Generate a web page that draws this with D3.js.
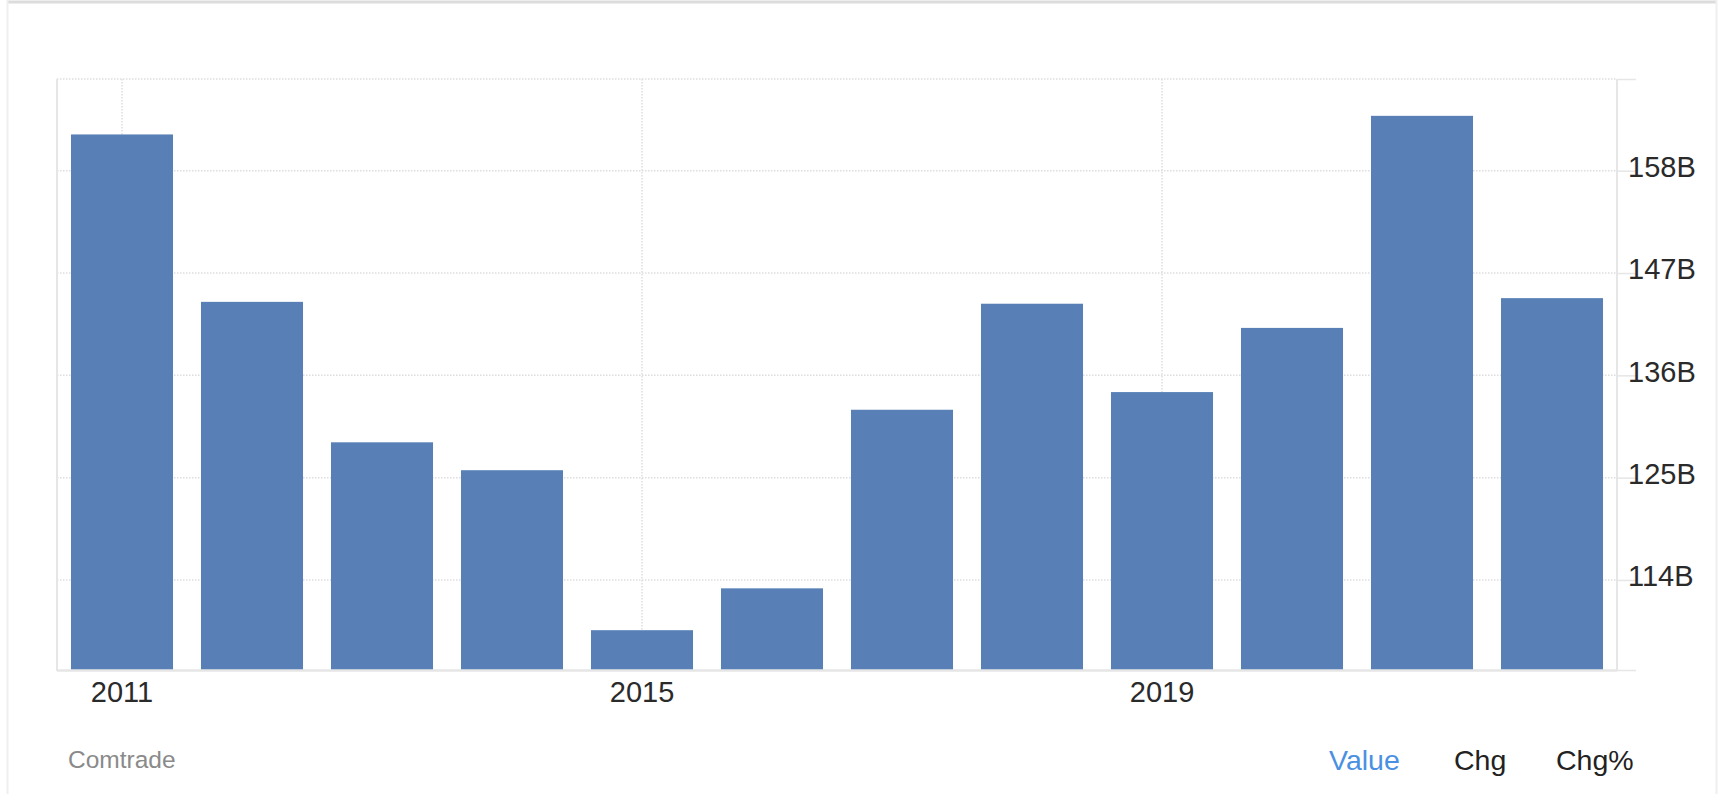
<!DOCTYPE html>
<html>
<head>
<meta charset="utf-8">
<script src="https://cdn.jsdelivr.net/npm/d3@7"></script>
<style>
  html, body { margin: 0; padding: 0; background: #fff; }
  svg { display: block; font-family: "Helvetica Neue", Helvetica, Arial, "Liberation Sans", sans-serif; }
</style>
</head>
<body>
<svg id="chart" width="1720" height="794"></svg>
<script>
const years = [2011, 2012, 2013, 2014, 2015, 2016, 2017, 2018, 2019, 2020, 2021, 2022];
const values = [161.9, 143.9, 128.8, 125.8, 108.6, 113.1, 132.3, 143.7, 134.2, 141.1, 163.9, 144.3];
const yTickValues = [114, 125, 136, 147, 158];
const yTickLabels = ["114B", "125B", "136B", "147B", "158B"];
const xTickValues = [2011, 2015, 2019];
const xTickLabels = ["2011", "2015", "2019"];
const yDomain = [104.32, 167.86];
const source = "Comtrade";
const tabs = ["Value", "Chg", "Chg%"];

const svg = d3.select("#chart");
const L = 57, R = 1617, T = 79, B = 670;
const FONT = "\"Helvetica Neue\", Helvetica, Arial, \"Liberation Sans\", sans-serif";

const x = d3.scaleBand().domain(years).range([L, R]).paddingInner(0.215).paddingOuter(0.1075);
const y = d3.scaleLinear().domain(yDomain).range([B, T]);

// outer frame
svg.append("line").attr("x1", 8).attr("x2", 1716).attr("y1", 2).attr("y2", 2)
  .attr("stroke", "#dcdcdc").attr("stroke-width", 3);
svg.append("line").attr("x1", 7.5).attr("x2", 7.5).attr("y1", 0).attr("y2", 794)
  .attr("stroke", "#efefef").attr("stroke-width", 2);
svg.append("line").attr("x1", 1716.5).attr("x2", 1716.5).attr("y1", 0).attr("y2", 794)
  .attr("stroke", "#efefef").attr("stroke-width", 2);

const grid = svg.append("g");
grid.selectAll("line.h").data(yTickValues.concat([yDomain[1]])).join("line")
  .attr("class", "h")
  .attr("x1", L).attr("x2", R)
  .attr("y1", d => y(d)).attr("y2", d => y(d))
  .attr("stroke", "#dedede").attr("stroke-width", 1.5).attr("stroke-dasharray", "1.5,1.5");
grid.selectAll("line.v").data(xTickValues).join("line")
  .attr("class", "v")
  .attr("x1", d => x(d) + x.bandwidth() / 2).attr("x2", d => x(d) + x.bandwidth() / 2)
  .attr("y1", T).attr("y2", B)
  .attr("stroke", "#dedede").attr("stroke-width", 1.5).attr("stroke-dasharray", "1.5,1.5");

// bars
svg.append("g").selectAll("rect").data(years).join("rect")
  .attr("x", (d) => x(d))
  .attr("y", (d, i) => y(values[i]))
  .attr("width", x.bandwidth())
  .attr("height", (d, i) => B - y(values[i]))
  .attr("fill", "#5880b7");

// left frame line
svg.append("line").attr("x1", L).attr("x2", L).attr("y1", T).attr("y2", B + 1)
  .attr("stroke", "#e6e6e6").attr("stroke-width", 2);

// x axis
const xAxis = svg.append("g").attr("transform", `translate(0,${B})`)
  .call(d3.axisBottom(x).tickValues(xTickValues).tickSize(0).tickPadding(11)
    .tickFormat((d) => xTickLabels[xTickValues.indexOf(d)]));
xAxis.select(".domain").attr("stroke", "#e6e6e6").attr("stroke-width", 2.5)
  .attr("d", `M${L},0.5H${R}`);
xAxis.selectAll("text").attr("font-size", 29).attr("fill", "#2a2a2a").attr("font-family", FONT);

// y axis (right)
const yAxis = svg.append("g").attr("transform", `translate(${R},0)`)
  .call(d3.axisRight(y).tickValues(yTickValues.concat(yDomain)).tickSize(19).tickPadding(-8)
    .tickFormat((d) => { const k = yTickValues.indexOf(d); return k >= 0 ? yTickLabels[k] : ""; }));
yAxis.select(".domain").attr("stroke", "#e6e6e6").attr("stroke-width", 2).attr("d", `M0,${T}V${B}`);
yAxis.selectAll(".tick line").attr("stroke", "#e6e6e6").attr("stroke-width", 1.5);
yAxis.selectAll("text").attr("font-size", 29).attr("fill", "#2a2a2a").attr("dy", "0.2em")
  .attr("font-family", FONT);

// footer
svg.append("text").attr("x", 68).attr("y", 768).attr("font-size", 24.5).attr("fill", "#8a8a8a").text(source);
const tabX = [1329, 1454, 1556];
const tabColors = ["#4a90e2", "#222", "#222"];
svg.append("g").selectAll("text").data(tabs).join("text")
  .attr("x", (d, i) => tabX[i]).attr("y", 770)
  .attr("font-size", 28.5).attr("fill", (d, i) => tabColors[i]).text(d => d);
</script>
</body>
</html>
